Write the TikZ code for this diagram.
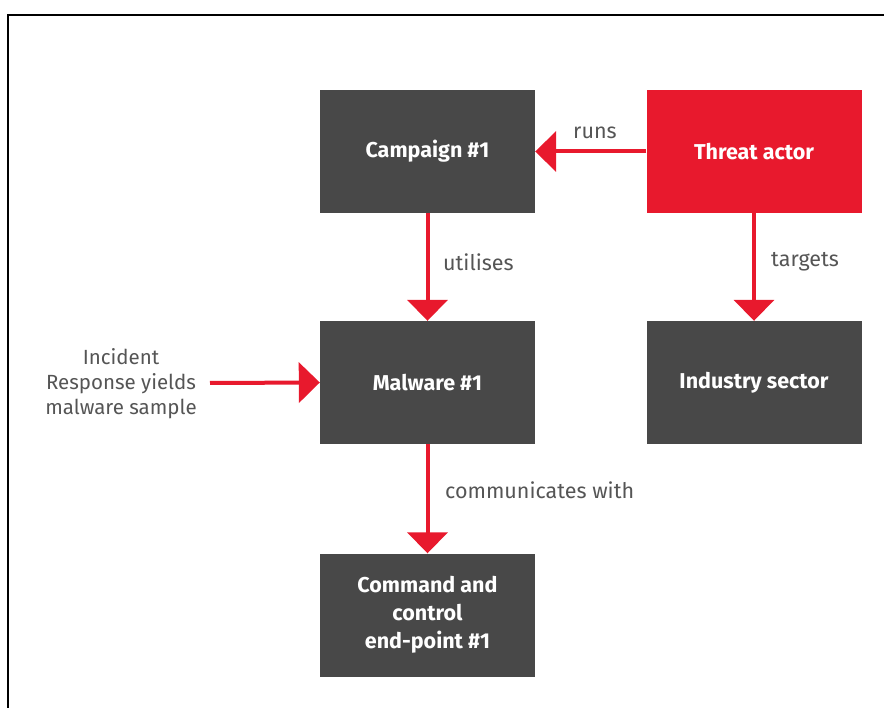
\documentclass[tikz,border=0pt]{standalone}
\usepackage{fontspec}
\setmainfont{Fira Sans}
\usetikzlibrary{arrows.meta}
\definecolor{boxgray}{RGB}{72,72,72}
\definecolor{tred}{RGB}{232,25,45}
\definecolor{labgray}{RGB}{85,85,85}
\begin{document}
\begin{tikzpicture}[x=1pt,y=-1pt,
  box/.style={fill=boxgray, draw=none, minimum width=215pt, minimum height=123pt, inner sep=0pt, text=white, font=\fontsize{21.5}{28}\selectfont\bfseries, align=center},
  redbox/.style={box, fill=tred},
  lab/.style={text=labgray, font=\fontsize{21.5}{26}\selectfont, inner sep=0pt, anchor=west},
  conn/.style={draw=tred, line width=4pt, -{Triangle[length=21pt,width=40pt]}}
]
\useasboundingbox (0,0) rectangle (884,708);
\fill[white] (0,0) rectangle (884,708);
\draw[line width=2pt, line cap=rect] (884,15) -- (8,15) -- (8,708);

\node[box] (campaign) at (427.5,151.5) {Campaign \#1};
\node[redbox] (threat) at (754,151.5) {Threat actor};
\node[box] (malware) at (427.5,382.5) {Malware \#1};
\node[box] (industry) at (754,382.5) {Industry sector};
\node[box] (cc) at (427.5,615) {Command and\\control\\end-point \#1};

\node[text=labgray, font=\fontsize{20.5}{25}\selectfont, align=center, inner sep=0pt] (ir) at (121,384) {Incident\\Response yields\\malware sample};
\coordinate (irstart) at (210,383);

\draw[conn] (threat.west) -- (campaign.east);
\draw[conn] (campaign.south) -- (malware.north);
\draw[conn] (threat.south) -- (industry.north);
\draw[conn] (malware.south) -- (cc.north);
\draw[conn] (irstart) -- (malware.west);

\node[lab] (runs) at (573,133) {runs};
\node[lab] (util) at (443,262) {utilises};
\node[lab] (targ) at (771,262) {targets};
\node[lab] (comm) at (445,490) {communicates with};
\end{tikzpicture}
\end{document}
